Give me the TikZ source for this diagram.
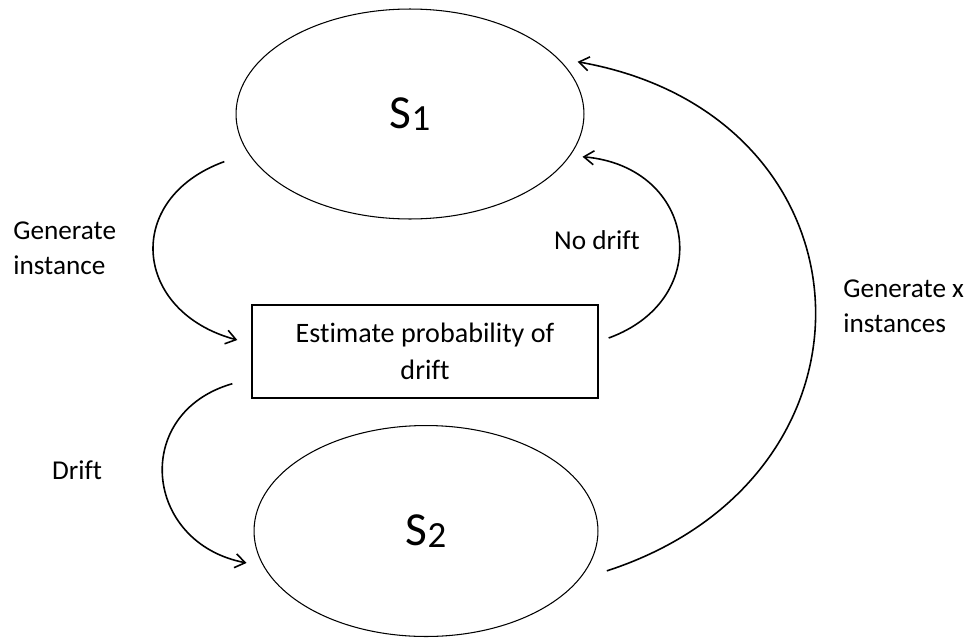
\documentclass[tikz,border=0pt]{standalone}
\usepackage{fontspec}
\setmainfont{Carlito}[Ligatures={NoCommon, NoRequired, NoContextual}]
\usetikzlibrary{positioning, arrows.meta, calc, shapes.geometric}

\begin{document}
\begin{tikzpicture}[x=0.02cm, y=-0.02cm,
    >={Straight Barb[length=2mm, width=2.8mm]},
    state/.style={ellipse, draw, line width=0.6pt, inner sep=0pt, font=\fontsize{27}{27}\selectfont},
    box/.style={rectangle, draw, line width=0.8pt, inner sep=0pt, align=center, font=\fontsize{16}{21}\selectfont},
    lbl/.style={align=left, inner sep=0pt, font=\fontsize{15.5}{20}\selectfont},
    flow/.style={->, line width=0.9pt}]

    % Rahmen des Bildes
    \useasboundingbox (0,0) rectangle (976,639);

    % --- Zustaende und Schaetzung ---
    \node[state, minimum width=6.96cm, minimum height=4.2cm] (s1) at (410,114)
        {S\raisebox{-1.5pt}{\fontsize{21}{21}\selectfont 1}};
    \node[state, minimum width=6.88cm, minimum height=4.22cm] (s2) at (426,531)
        {S\raisebox{-1.5pt}{\fontsize{21}{21}\selectfont 2}};
    \node[box, minimum width=6.92cm, minimum height=1.86cm] (est) at (425,351.5)
        {Estimate probability of\\drift};

    % --- Uebergaenge ---
    \draw[flow] ([xshift=-0.6cm]s1.197) to[out=200, in=165, looseness=1.55]
        ([xshift=-0.28cm, yshift=0.23cm]est.west);
    \draw[flow] ([xshift=0.2cm, yshift=0.27cm]est.east) to[out=20, in=-5, looseness=1.6]
        ([xshift=0.26cm]s1.345);
    \draw[flow] ([xshift=0.42cm]s2.346) to[out=18, in=-10, looseness=1.54]
        ([xshift=0.32cm]s1.19);
    \draw[flow] ([xshift=-0.38cm, yshift=0.3cm]est.south west) to[out=196, in=169, looseness=1.5]
        ([xshift=-0.3cm]s2.191);

    % --- Beschriftungen ---
    \node[lbl, anchor=west] (lgen) at (13,248) {Generate\\instance};
    \node[lbl] (lnodrift) at (597,240) {No drift};
    \node[lbl, anchor=west] (lgenx) at (843,306) {Generate x\\instances};
    \node[lbl] (ldrift) at (77,470) {Drift};

\end{tikzpicture}
\end{document}
